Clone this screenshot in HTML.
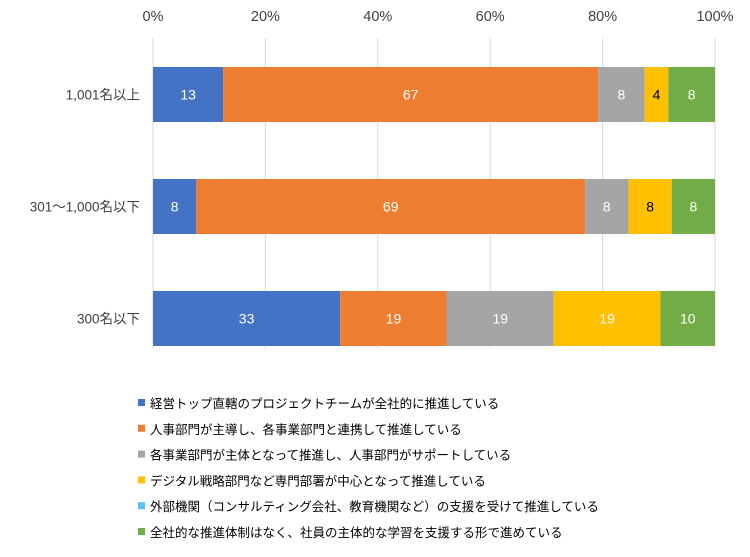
<!DOCTYPE html>
<html><head><meta charset="utf-8"><style>
body{margin:0;background:#fff;}
svg text{font-family:"Liberation Sans","Noto Sans CJK JP",sans-serif;}
</style></head><body>
<svg width="750" height="552" id="c"></svg>
<script>
const categories=["1,001名以上","301～1,000名以下","300名以下"];
const seriesNames=["経営トップ直轄のプロジェクトチームが全社的に推進している","人事部門が主導し、各事業部門と連携して推進している","各事業部門が主体となって推進し、人事部門がサポートしている","デジタル戦略部門など専門部署が中心となって推進している","外部機関（コンサルティング会社、教育機関など）の支援を受けて推進している","全社的な推進体制はなく、社員の主体的な学習を支援する形で進めている"];
const s1=[12.5,7.7,33.3];
const s2=[66.7,69.2,19.0];
const s3=[8.3,7.7,19.0];
const s4=[4.2,7.7,19.0];
const s5=[0,0,0];
const s6=[8.3,7.7,9.7];
const ticks=[0,20,40,60,80,100];
const colors=["#4472c4","#ed7d31","#a5a5a5","#ffc000","#5bc0eb","#70ad47"];
const textColors=["#fff","#fff","#fff","#000","#000","#fff"];
const series=[s1,s2,s3,s4,s5,s6];
const svg=document.getElementById('c');
const NS="http://www.w3.org/2000/svg";
const x0=153,x1=715,rowTop=40,rowH=112,barH=55;
const X=v=>x0+(x1-x0)*v/100;
const Y=i=>rowTop+rowH*i+27;
function mk(t,a,txt){const e=document.createElementNS(NS,t);for(const k in a)e.setAttribute(k,a[k]);if(txt!==undefined)e.textContent=txt;svg.appendChild(e);return e;}
ticks.forEach(t=>{
 const g=mk('line',{x1:X(t),x2:X(t),y1:38,y2:348,stroke:'#d9d9d9','stroke-width':1});
 
 
 const l=mk('text',{x:X(t),y:21,'text-anchor':'middle','font-size':14.5,fill:'#404040'},t+'%');
 
 
});
categories.forEach((c,i)=>{
 const l=mk('text',{x:140,y:Y(i)+barH/2+5,'text-anchor':'end','font-size':13.5,fill:'#404040'},c);
 
 
 let acc=0;
 series.forEach((s,k)=>{
  const v=s[i];
  if(v>0){
   const r=mk('rect',{x:X(acc),y:Y(i),width:X(acc+v)-X(acc),height:barH,fill:colors[k]});
   
   
   const t=mk('text',{x:(X(acc)+X(acc+v))/2,y:Y(i)+barH/2+5,'text-anchor':'middle','font-size':14,fill:(k===3&&v>15)?'#fff':textColors[k]},Math.round(v));
   
   
  }
  acc+=v;
 });
});
seriesNames.forEach((n,k)=>{
 const y=403+k*25.8;
 const r=mk('rect',{x:138,y:y-4,width:7,height:7,fill:colors[k]});
 
 
 const t=mk('text',{x:150,y:y+5,'font-size':12.5,fill:'#000'},n);
 
 
});
</script>
</body></html>
